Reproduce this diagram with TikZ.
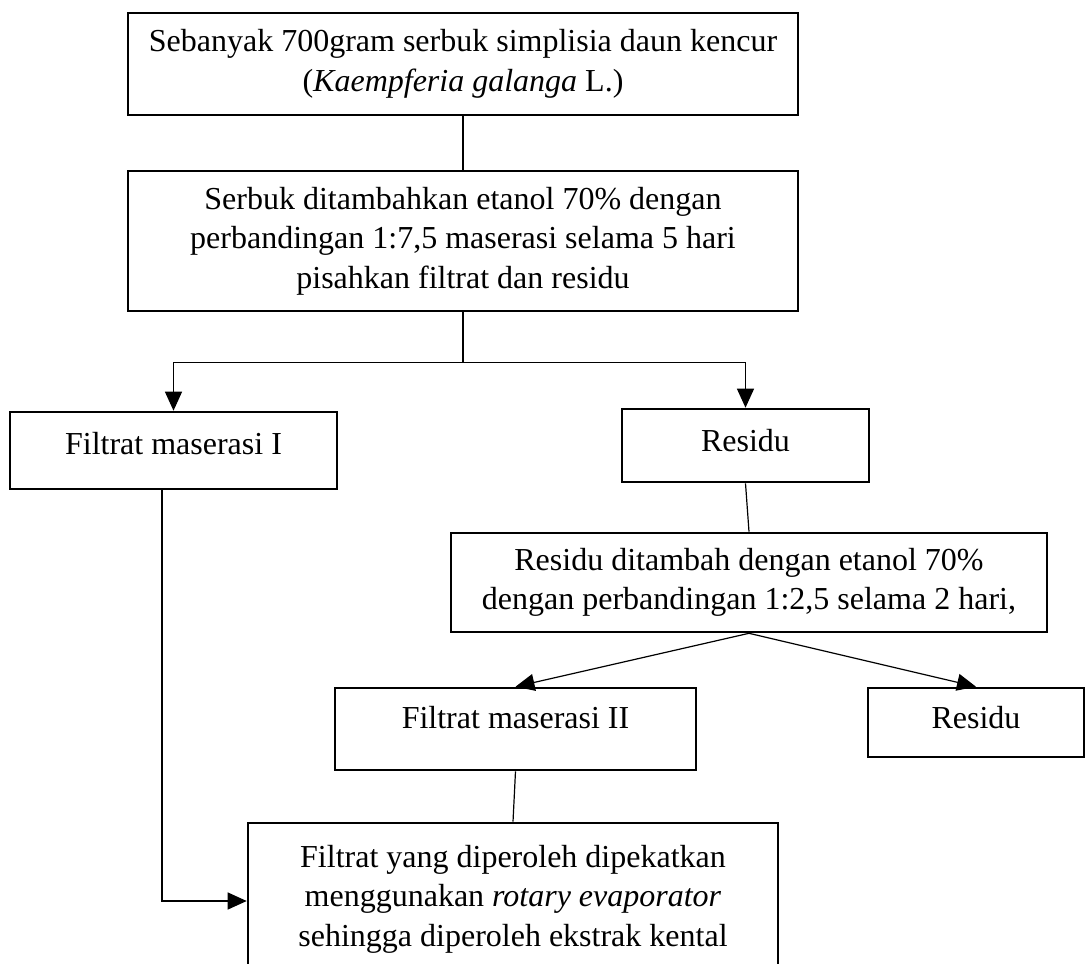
\documentclass[tikz,border=0pt]{standalone}
\usepackage{fontspec}
\setmainfont{Liberation Serif}
\usetikzlibrary{arrows.meta}
\tikzset{
  box/.style={draw, line width=2.6pt, inner sep=0pt, align=center,
    font=\fontsize{32}{39.5}\selectfont},
  conn/.style={line width=1.2pt},
  arr/.style={conn, -{Triangle[length=19pt,width=17pt]}}
}
\begin{document}
\begin{tikzpicture}[x=1pt,y=-1pt]
\useasboundingbox (0,0) rectangle (1088,964);
\node[box, minimum width=670pt, minimum height=102pt] (b1) at (463,64)
  {Sebanyak 700gram serbuk simplisia daun kencur\\(\textit{Kaempferia galanga} L.)};
\node[box, minimum width=670pt, minimum height=140pt] (b2) at (463,241)
  {Serbuk ditambahkan etanol 70\% dengan\\perbandingan 1:7,5 maserasi selama 5 hari\\pisahkan filtrat dan residu};
\node[box, minimum width=327pt, minimum height=77pt, text height=22pt, text depth=15pt] (fi) at (173.5,450.5)
  {Filtrat maserasi I};
\node[box, minimum width=247pt, minimum height=73pt, text height=22pt, text depth=11pt] (r1) at (745.5,445.5)
  {Residu};
\node[box, minimum width=596pt, minimum height=99pt] (b3) at (749,582.5)
  {Residu ditambah dengan etanol 70\%\\dengan perbandingan 1:2,5 selama 2 hari,};
\node[box, minimum width=361pt, minimum height=82pt, text height=22pt, text depth=24pt] (fii) at (515.5,729)
  {Filtrat maserasi II};
\node[box, minimum width=216pt, minimum height=69pt, text height=22pt, text depth=11pt] (r2) at (976,722.5)
  {Residu};
\node[box, minimum width=530pt, minimum height=152pt] (bot) at (513,899)
  {Filtrat yang diperoleh dipekatkan\\menggunakan \textit{rotary evaporator}\\sehingga diperoleh ekstrak kental};
% connectors
\draw[conn] (b1.south) -- (b2.north);
\draw[conn] (b2.south) -- ++(0,50) coordinate (split);
\draw[arr] (split) -| (fi.north);
\draw[arr] (split) -| (r1.north);
\draw[conn] (r1.south) -- (b3.north);
\draw[arr] (b3.south) -- (fii.north);
\draw[arr] (b3.south) -- (r2.north);
\draw[conn] (fii.south) -- (bot.north);
\coordinate (fiout) at ([xshift=-11.5pt]fi.south);
\draw[arr] (fiout) |- ([yshift=-2pt]bot.west);
\end{tikzpicture}
\end{document}
